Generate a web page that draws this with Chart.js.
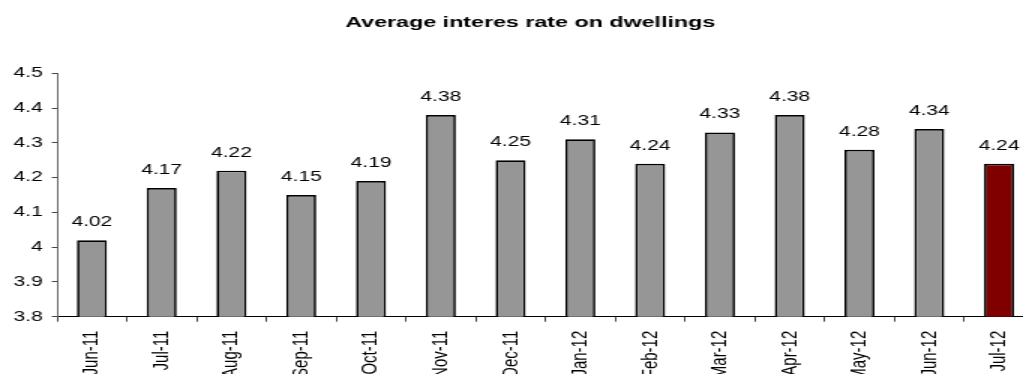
<!DOCTYPE html>
<html>
<head>
<meta charset="utf-8">
<script src="https://cdn.jsdelivr.net/npm/chart.js@4.4.1/dist/chart.umd.min.js"></script>
<style>
  html, body { margin: 0; padding: 0; background: #fff; overflow: hidden; }
  /* the reference is a horizontally stretched picture, so the chart is drawn narrow and widened */
  #estirado { width: 707px; height: 374px; transform: scaleX(1.5); transform-origin: 0 0; }
</style>
</head>
<body>
<div id="estirado"><canvas id="grafica"></canvas></div>
<script>
const meses = ['Jun-11', 'Jul-11', 'Aug-11', 'Sep-11', 'Oct-11', 'Nov-11', 'Dec-11',
               'Jan-12', 'Feb-12', 'Mar-12', 'Apr-12', 'May-12', 'Jun-12', 'Jul-12'];
const tasas = [4.02, 4.17, 4.22, 4.15, 4.19, 4.38, 4.25, 4.31, 4.24, 4.33, 4.38, 4.28, 4.34, 4.24];
const ejeMin = 3.8;
const ejeMax = 4.5;
const paso = 0.1;

const fuente = '"Liberation Sans", Arial, sans-serif';

// values written above each bar
const etiquetasValores = {
  id: 'etiquetasValores',
  afterDatasetsDraw(chart) {
    const ctx = chart.ctx;
    const meta = chart.getDatasetMeta(0);
    ctx.save();
    ctx.font = '14px ' + fuente;
    ctx.fillStyle = '#000';
    ctx.textAlign = 'center';
    ctx.textBaseline = 'alphabetic';
    meta.data.forEach((barra, i) => {
      ctx.fillText(tasas[i].toFixed(2), barra.x, barra.y - 14);
    });
    ctx.restore();
  }
};

new Chart(document.getElementById('grafica'), {
  type: 'bar',
  data: {
    labels: meses,
    datasets: [{
      data: tasas,
      backgroundColor: ctx => ctx.dataIndex === meses.length - 1 ? '#800000' : '#969696',
      borderColor: '#000',
      borderWidth: 1.7,
      barPercentage: 0.43,
      categoryPercentage: 1
    }]
  },
  options: {
    responsive: true,
    maintainAspectRatio: false,
    animation: false,
    layout: { padding: 0 },
    plugins: {
      legend: { display: false },
      tooltip: { enabled: false },
      title: {
        display: true,
        text: 'Average interes rate on dwellings',
        color: '#000',
        font: { family: fuente, size: 15.5, weight: 'bold' },
        padding: { top: 13, bottom: 41.7 }
      }
    },
    scales: {
      x: {
        offset: true,
        grid: { offset: true, drawOnChartArea: false, drawTicks: true, tickLength: 5, color: '#444' },
        border: { color: '#000', width: 1 },
        ticks: {
          autoSkip: false, minRotation: 90, maxRotation: 90, padding: 9,
          color: '#000', font: { family: fuente, size: 15 }
        },
        afterFit: s => { s.height = 57.3; }
      },
      y: {
        min: ejeMin,
        max: ejeMax,
        grid: { drawOnChartArea: false, tickLength: 3.5, color: '#444' },
        border: { color: '#666', width: 1 },
        ticks: {
          stepSize: paso, padding: 6, color: '#000',
          font: { family: fuente, size: 14 },
          callback: v => String(Math.round(v * 10) / 10)
        },
        afterFit: s => { s.width = 38; }
      },
      // empty right-hand axis: leaves the room the cropped original had past the last bar
      derecha: {
        position: 'right',
        display: true,
        grid: { display: false },
        border: { display: false },
        ticks: { display: false },
        afterFit: s => { s.width = 17.7; }
      }
    }
  },
  plugins: [etiquetasValores]
});
</script>
</body>
</html>
